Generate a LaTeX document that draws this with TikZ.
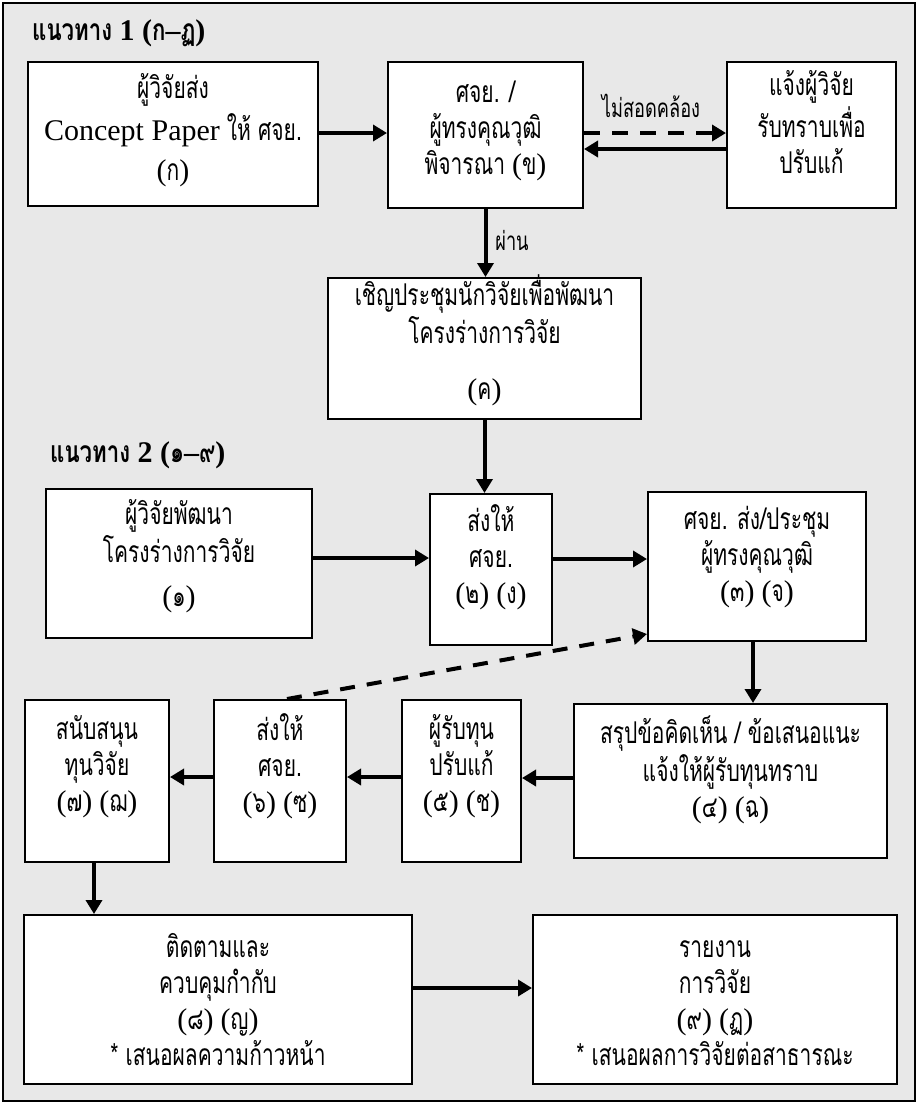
\documentclass[tikz,border=0pt]{standalone}
\usepackage{fontspec}
\setmainfont{Liberation Serif}
\newfontfamily\thai[Script=Thai,FakeStretch=0.70]{Loma}
\newfontfamily\thaiT[Script=Thai,FakeStretch=0.74]{Loma}
\usetikzlibrary{arrows.meta}
\definecolor{bg}{RGB}{232,232,232}
\newcommand{\bx}[2][0pt]{\raisebox{#1}[\height][\depth]{\begin{tabular}{@{}c@{}}#2\end{tabular}}}
\newcommand{\pr}[1]{{\rmfamily(}#1{\rmfamily)}}
\begin{document}
\begin{tikzpicture}[x=1pt,y=-1pt,
  box/.style={draw=black, line width=2pt, fill=white, inner sep=0pt, font=\thai\fontsize{30}{36}\selectfont},
  arr/.style={line width=4pt, -{Triangle[length=14pt,width=16pt]}},
  dasharr/.style={arr, dash pattern=on 16pt off 12pt},
  diagarr/.style={arr, dash pattern=on 15pt off 12pt},
  ttl/.style={font=\thaiT\bfseries\fontsize{30}{34}\selectfont, anchor=west, inner sep=0pt},
  lbl/.style={font=\thai\fontsize{26}{30}\selectfont, inner sep=0pt}]
\useasboundingbox (0,0) rectangle (921,1106);
\draw[fill=bg, line width=1.5pt] (3,3) rectangle (915,1101);

\node[ttl] (t1) at (32,33) {แนวทาง {\rmfamily 1 (}ก{\rmfamily –}ฏ{\rmfamily )}};
\node[ttl] (t2) at (50,455) {แนวทาง {\rmfamily 2 (}๑{\rmfamily –}๙{\rmfamily )}};

\node[box, minimum width=290pt, minimum height=144pt] (A) at (173,134)
  {\bx[2pt]{ผู้วิจัยส่ง\\[4pt]{\rmfamily\fontsize{30}{36}\selectfont Concept Paper} ให้ ศจย.\\[4pt]\pr{ก}}};
\node[box, minimum width=195pt, minimum height=146pt] (B) at (485.5,135)
  {\bx[4pt]{ศจย. /\\ผู้ทรงคุณวุฒิ\\พิจารณา \pr{ข}}};
\node[box, minimum width=169pt, minimum height=146pt] (C) at (811.5,135)
  {\bx[8pt]{แจ้งผู้วิจัย\\รับทราบเพื่อ\\ปรับแก้}};
\node[box, minimum width=313pt, minimum height=141pt] (D) at (484.5,348.5)
  {\bx[6pt]{เชิญประชุมนักวิจัยเพื่อพัฒนา\\โครงร่างการวิจัย\\[20pt]\pr{ค}}};

\node[box, minimum width=266pt, minimum height=149pt] (F) at (179,563.5)
  {\bx[5pt]{ผู้วิจัยพัฒนา\\โครงร่างการวิจัย\\[8pt]\pr{๑}}};
\node[box, minimum width=122pt, minimum height=151pt] (E) at (491,569.5)
  {\bx[10pt]{ส่งให้\\ศจย.\\\pr{๒} \pr{ง}}};
\node[box, minimum width=218pt, minimum height=149pt] (G) at (757,566.5)
  {\bx[8pt]{ศจย. ส่ง/ประชุม\\ผู้ทรงคุณวุฒิ\\\pr{๓} \pr{จ}}};

\node[box, minimum width=144pt, minimum height=162pt] (H) at (97,781)
  {\bx[13pt]{สนับสนุน\\ทุนวิจัย\\\pr{๗} \pr{ฌ}}};
\node[box, minimum width=132pt, minimum height=162pt] (I) at (280,781)
  {\bx[13pt]{ส่งให้\\ศจย.\\\pr{๖} \pr{ซ}}};
\node[box, minimum width=119pt, minimum height=162pt] (J) at (461.5,781)
  {\bx[13pt]{ผู้รับทุน\\ปรับแก้\\\pr{๕} \pr{ช}}};
\node[box, minimum width=313pt, minimum height=154pt] (K) at (730.5,781)
  {\bx[9pt]{สรุปข้อคิดเห็น / ข้อเสนอแนะ\\แจ้งให้ผู้รับทุนทราบ\\\pr{๔} \pr{ฉ}}};

\node[box, minimum width=388pt, minimum height=169pt] (L) at (218,999.5)
  {\bx[-5pt]{ติดตามและ\\ควบคุมกำกับ\\\pr{๘} \pr{ญ}\\{*} เสนอผลความก้าวหน้า}};
\node[box, minimum width=364pt, minimum height=169pt] (M) at (715,999.5)
  {\bx[-5pt]{รายงาน\\การวิจัย\\\pr{๙} \pr{ฏ}\\{*} เสนอผลการวิจัยต่อสาธารณะ}};

\draw[arr] ([yshift=1pt]A.east) -- ([yshift=1pt]A.east -| B.west);
\draw[dasharr] ([yshift=2pt]B.east) -- ([yshift=2pt]B.east -| C.west);
\draw[arr] ([yshift=-14pt]C.west) -- ([yshift=-14pt]C.west -| B.east);
\node[lbl] (nc) at (651,106) {ไม่สอดคล้อง};
\draw[arr] (B.south) -- (B.south |- D.north);
\node[lbl] (pass) at (512,240) {ผ่าน};
\draw[arr] (D.south) -- (D.south |- E.north);

\draw[arr] ([yshift=5.5pt]F.east) -- ([yshift=5.5pt]F.east -| E.west);
\draw[arr] ([yshift=10.5pt]E.east) -- ([yshift=10.5pt]E.east -| G.west);
\draw[arr] ([xshift=-4pt]G.south) -- ([xshift=-4pt]G.south |- K.north);
\draw[diagarr] ([xshift=7pt]I.north) -- ([yshift=8pt]G.south west);

\draw[arr] ([yshift=3pt]K.west) -- ([yshift=3pt]K.west -| J.east);
\draw[arr] ([yshift=4pt]J.west) -- ([yshift=4pt]J.west -| I.east);
\draw[arr] ([yshift=4pt]I.west) -- ([yshift=4pt]I.west -| H.east);
\draw[arr] ([xshift=-3pt]H.south) -- ([xshift=-3pt]H.south |- L.north);
\draw[arr] ([yshift=11.5pt]L.east) -- ([yshift=11.5pt]L.east -| M.west);
\end{tikzpicture}
\end{document}
